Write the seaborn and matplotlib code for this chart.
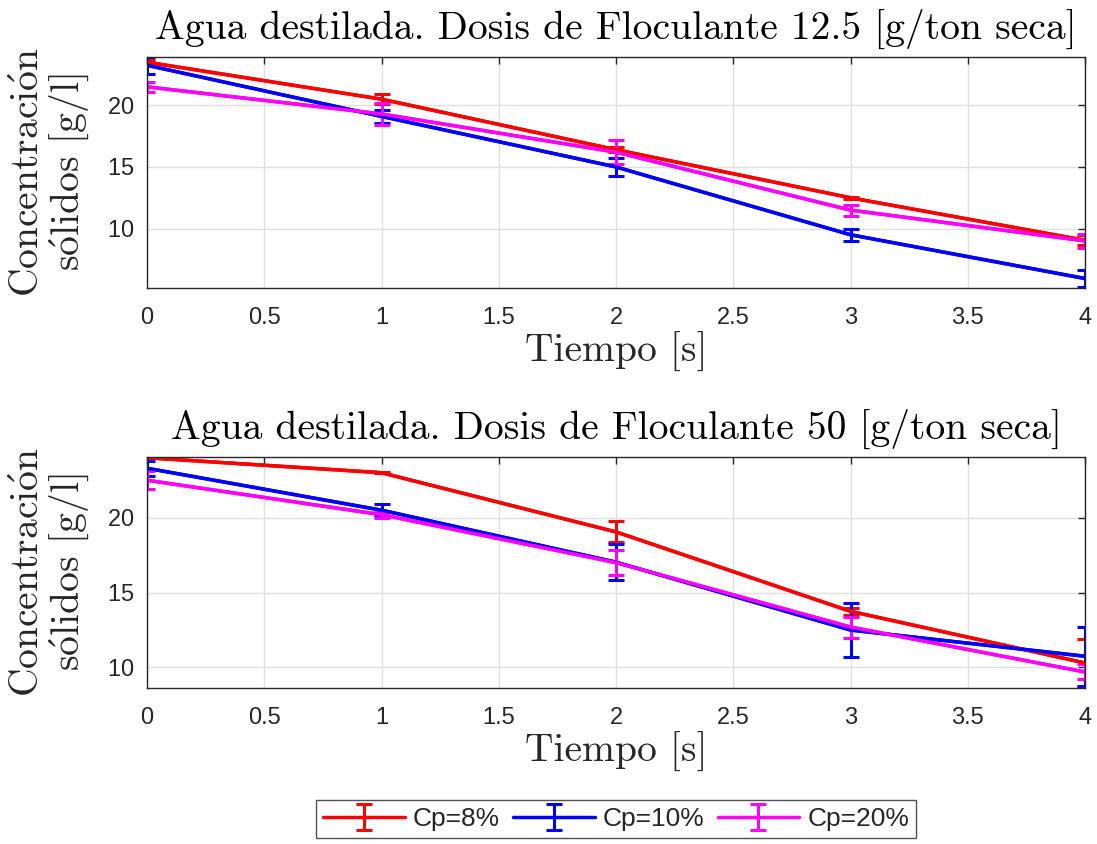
import numpy as np
import pandas as pd
import matplotlib
matplotlib.use("Agg")
import matplotlib.pyplot as plt
import seaborn as sns

# ---- data ----
tiempo = [0, 1, 2, 3, 4]
series = ["Cp=8%", "Cp=10%", "Cp=20%"]
colors = ["#ff0000", "#0000ff", "#ff00ff"]

titles = ["Agua destilada. Dosis de Floculante 12.5 [g/ton seca]",
          "Agua destilada. Dosis de Floculante 50 [g/ton seca]"]
xlabel = "Tiempo [s]"
ylabel = "Concentraci$\\acute{\\mathrm{o}}$n\ns$\\acute{\\mathrm{o}}$lidos [g/l]"

# dose 12.5
cp8_a = [23.5, 20.5, 16.4, 12.5, 9.05]
cp8_a_err = [0.2, 0.4, 0.2, 0.1, 0.4]
cp10_a = [23.25, 19.1, 15.0, 9.5, 5.95]
cp10_a_err = [0.67, 0.5, 0.7, 0.5, 0.67]
cp20_a = [21.5, 19.3, 16.2, 11.5, 9.0]
cp20_a_err = [0.4, 0.9, 1.0, 0.45, 0.6]

# dose 50
cp8_b = [24.0, 23.0, 19.05, 13.75, 10.3]
cp8_b_err = [0.05, 0.05, 0.7, 0.25, 1.57]
cp10_b = [23.3, 20.5, 17.03, 12.5, 10.75]
cp10_b_err = [0.5, 0.42, 1.2, 1.83, 1.98]
cp20_b = [22.5, 20.2, 17.0, 12.7, 9.7]
cp20_b_err = [0.6, 0.2, 0.82, 0.7, 0.5]

xticks = [0, 0.5, 1, 1.5, 2, 2.5, 3, 3.5, 4]
xticklabels = ["0", "0.5", "1", "1.5", "2", "2.5", "3", "3.5", "4"]
yticks = [10, 15, 20]

panels = [
    ([cp8_a, cp10_a, cp20_a], [cp8_a_err, cp10_a_err, cp20_a_err]),
    ([cp8_b, cp10_b, cp20_b], [cp8_b_err, cp10_b_err, cp20_b_err]),
]

sns.set_style("white")
serif = ["cmr10", "DejaVu Serif"]
sans = ["Liberation Sans", "DejaVu Sans"]
plt.rcParams["axes.formatter.use_mathtext"] = True
plt.rcParams["mathtext.fontset"] = "cm"

fig = plt.figure(figsize=(10.97, 8.44), dpi=100)
W, H = 1097, 844
axes_px = [(147, 57, 1085, 288), (147, 457, 1085, 688)]

handles = None
for (l, t, r, b), title, (vals, errs) in zip(axes_px, titles, panels):
    ax = fig.add_axes([l / W, (H - b) / H, (r - l) / W, (b - t) / H])
    rows = []
    for name, v in zip(series, vals):
        for x, y in zip(tiempo, v):
            rows.append({"Tiempo": x, "C": y, "serie": name})
    df = pd.DataFrame(rows)
    sns.lineplot(data=df, x="Tiempo", y="C", hue="serie", palette=colors,
                 hue_order=series, linewidth=2.5, ax=ax, legend=False,
                 errorbar=None, sort=False)
    conts = []
    for name, v, e, c in zip(series, vals, errs, colors):
        cont = ax.errorbar(tiempo, v, yerr=e, color=c, linewidth=2.5,
                           elinewidth=2.2, capsize=6, capthick=2.2,
                           label=name, fmt="-")
        conts.append(cont)
    handles = conts
    lo = min(min(np.array(v) - np.array(e)) for v, e in zip(vals, errs))
    hi = max(max(np.array(v) + np.array(e)) for v, e in zip(vals, errs))
    ax.set_xlim(0, 4)
    ax.set_ylim(lo - 0.1, hi)
    ax.set_xticks(xticks)
    ax.set_xticklabels(xticklabels)
    ax.set_yticks(yticks)
    ax.grid(True, color="#e0e0e0", linewidth=1)
    ax.set_axisbelow(True)
    for s in ax.spines.values():
        s.set_color("#262626")
        s.set_linewidth(1.0)
    ax.tick_params(direction="in", length=5, width=1, color="#262626",
                   top=True, right=True, labelsize=17, labelcolor="#262626")
    ax.tick_params(axis="x", pad=14)
    ax.tick_params(axis="y", pad=9)
    for lab in ax.get_xticklabels() + ax.get_yticklabels():
        lab.set_fontfamily(sans)
    ax.set_title(title, fontfamily=serif, fontsize=28.5, pad=13, color="#000000")
    ax.set_xlabel(xlabel, fontfamily=serif, fontsize=28.5, labelpad=2)
    ax.set_ylabel(ylabel, fontfamily=serif, fontsize=28.5, labelpad=12,
                  linespacing=1.0)

leg = fig.legend(handles, series, loc="center", ncol=3,
                 bbox_to_anchor=(616 / W, 1 - 819 / H),
                 prop={"family": sans, "size": 19}, frameon=True,
                 fancybox=False, edgecolor="#262626", handlelength=3.1,
                 columnspacing=0.5, handletextpad=0.3, borderpad=0.25)
leg.get_frame().set_linewidth(1.0)

fig.savefig("out.png", dpi=100)
